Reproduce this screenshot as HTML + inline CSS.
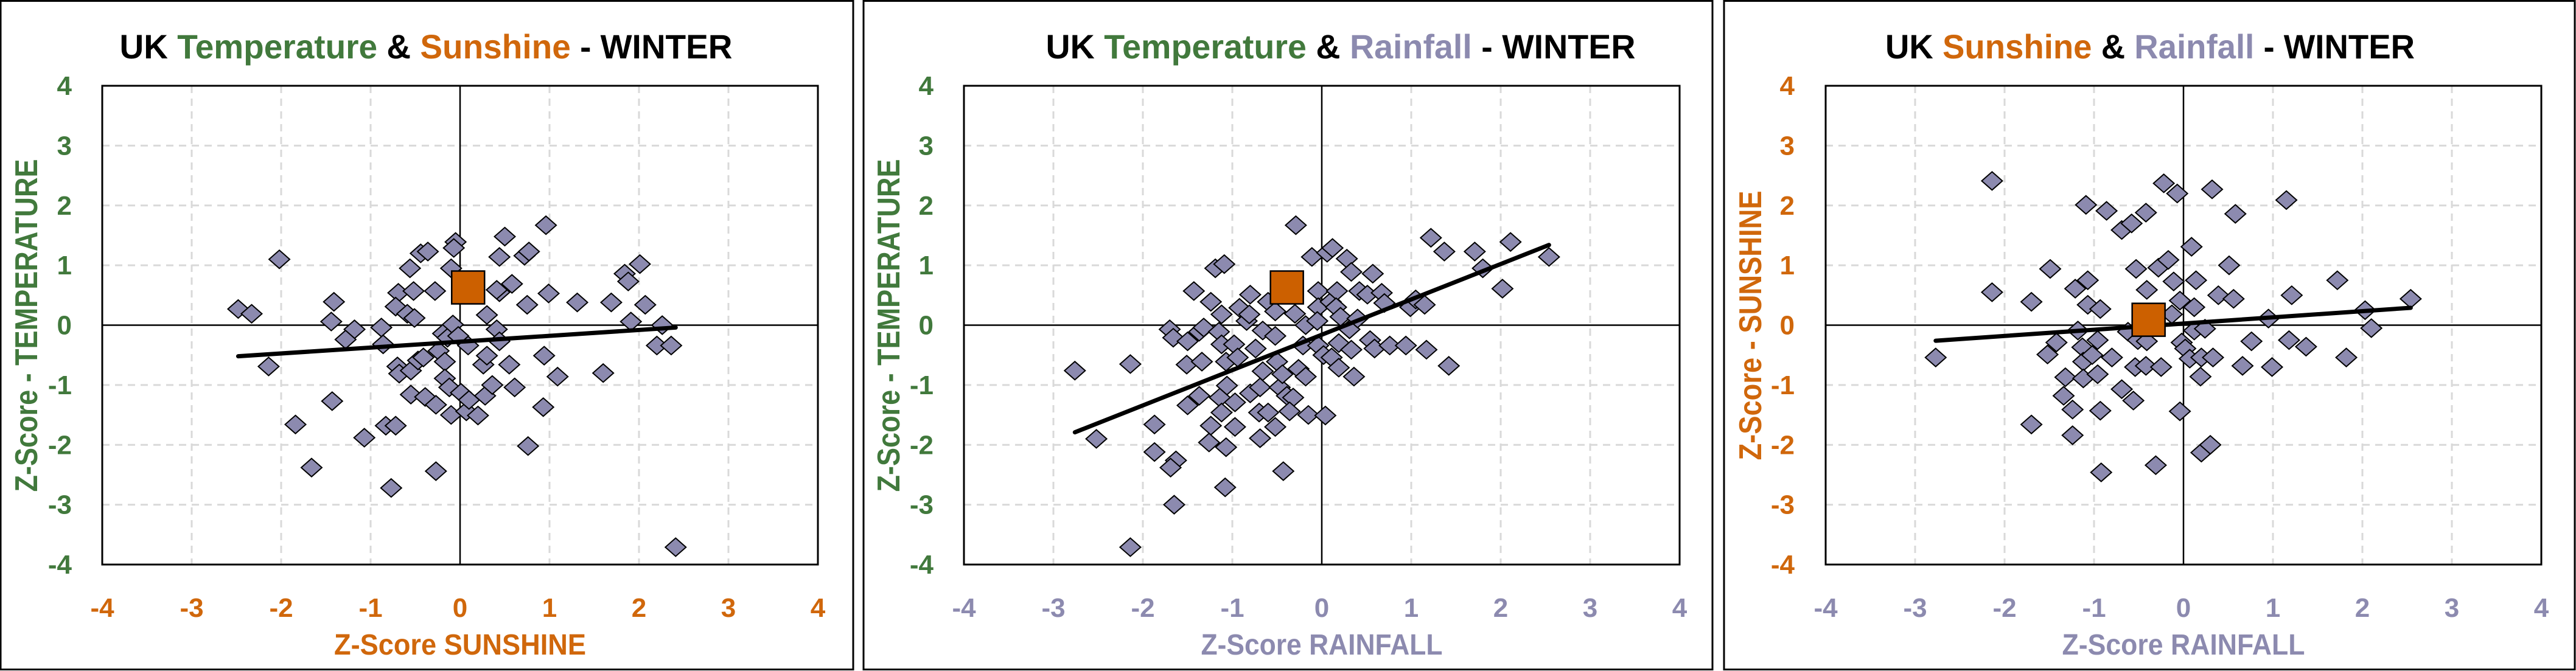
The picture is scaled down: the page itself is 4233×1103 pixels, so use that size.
<!DOCTYPE html>
<html><head><meta charset="utf-8"><style>
html,body{margin:0;padding:0;background:#fff;overflow:hidden;}
svg{display:block;}
text{font-family:"Liberation Sans Narrow","Liberation Sans",sans-serif;font-weight:bold;}
</style></head><body>
<svg id="s" width="4233" height="1103" xmlns="http://www.w3.org/2000/svg"></svg>
<script>
const G="#41793C",O="#D0670B",P="#8C8AAF";
const panels=[
{bx:1,bw:1401,px:168,title:[["UK ","#000"],["Temperature",G],[" & ","#000"],["Sunshine",O],[" - WINTER","#000"]],tcx:700,tw:1007,
 ytickR:118,ycol:G,xcol:O,ytitle:"Z-Score - TEMPERATURE",ytx:43,ytl:547,xtitle:"Z-Score SUNSHINE",xtw:414,
 sq:[0.09,0.63],tr:[[-2.48,-0.52],[2.41,-0.04]],
 pts:[[-2.48,0.27],[-2.33,0.19],[-2.02,1.1],[-2.14,-0.69],[-1.84,-1.66],[-1.66,-2.38],[-1.41,0.39],[-1.44,0.06],[-1.18,-0.07],[-1.28,-0.24],[-1.43,-1.27],[-1.07,-1.88],[-0.88,-0.04],[-0.86,-0.32],[-0.83,-1.68],[-0.72,-1.68],[-0.77,-2.72],[-0.69,0.54],[-0.72,0.31],[-0.59,0.19],[-0.51,0.12],[-0.56,0.95],[-0.52,0.57],[-0.44,1.2],[-0.36,1.23],[-0.28,0.57],[-0.70,-0.69],[-0.68,-0.81],[-0.55,-0.76],[-0.47,-0.59],[-0.41,-0.54],[-0.55,-1.16],[-0.39,-1.2],[-0.27,-1.33],[-0.27,-2.44],[-0.24,-0.43],[-0.17,-0.61],[-0.19,-0.14],[-0.14,-0.21],[-0.08,0.01],[-0.17,-0.89],[-0.12,-1.04],[-0.10,-1.5],[-0.05,1.39],[-0.07,1.29],[-0.10,0.95],[-0.02,-0.18],[0.01,-1.13],[0.07,-1.44],[0.10,-1.25],[0.09,-0.34],[0.20,-1.51],[0.28,-1.18],[0.26,-0.66],[0.30,-0.51],[0.30,0.17],[0.41,-0.07],[0.44,-0.27],[0.36,-1.0],[0.44,1.14],[0.50,1.48],[0.44,0.55],[0.41,0.59],[0.58,0.69],[0.55,-0.66],[0.61,-1.04],[0.75,0.34],[0.72,1.16],[0.77,1.23],[0.76,-2.02],[0.96,1.67],[0.99,0.53],[0.94,-0.51],[0.93,-1.37],[1.09,-0.86],[1.31,0.38],[1.60,-0.8],[1.69,0.38],[1.84,0.86],[1.88,0.73],[2.01,1.02],[1.91,0.06],[2.07,0.34],[2.26,0.0],[2.20,-0.34],[2.36,-0.34],[2.41,-3.71]]},
{bx:1419,bw:1395,px:1584,title:[["UK ","#000"],["Temperature",G],[" & ","#000"],["Rainfall",P],[" - WINTER","#000"]],tcx:2203,tw:969,
 ytickR:1534,ycol:G,xcol:P,ytitle:"Z-Score - TEMPERATURE",ytx:1460,ytl:547,xtitle:"Z-Score RAINFALL",xtw:397,
 sq:[-0.39,0.63],tr:[[-2.76,-1.79],[2.54,1.34]],
 pts:[[-2.76,-0.76],[-2.52,-1.9],[-2.14,-0.65],[-2.14,-3.71],[-1.87,-1.66],[-1.87,-2.12],[-1.70,-0.07],[-1.66,-0.21],[-1.63,-2.26],[-1.69,-2.38],[-1.65,-3.0],[-1.50,-0.27],[-1.51,-0.66],[-1.50,-1.34],[-1.43,0.57],[-1.37,-0.11],[-1.34,-0.61],[-1.32,-0.04],[-1.37,-1.18],[-1.24,0.39],[-1.24,-1.68],[-1.26,-1.96],[-1.19,0.95],[-1.12,0.18],[-1.15,-0.11],[-1.12,-0.32],[-1.09,1.02],[-1.07,-0.61],[-1.14,-1.21],[-1.06,-1.01],[-1.12,-1.46],[-1.07,-2.04],[-1.08,-2.71],[-0.98,-0.32],[-0.97,-1.29],[-0.97,-1.7],[-0.92,0.29],[-0.84,0.07],[-0.81,0.18],[-0.80,0.51],[-0.94,-0.54],[-0.80,-1.14],[-0.74,-0.39],[-0.66,-0.09],[-0.66,-0.77],[-0.69,-1.04],[-0.70,-1.46],[-0.69,-1.89],[-0.60,0.39],[-0.52,0.23],[-0.52,-0.18],[-0.50,-0.61],[-0.60,-1.46],[-0.52,-1.7],[-0.47,-1.04],[-0.44,-0.82],[-0.39,-1.18],[-0.32,-1.21],[-0.36,-1.44],[-0.43,-2.44],[-0.29,1.67],[-0.30,0.19],[-0.26,-0.73],[-0.18,-0.86],[-0.21,-0.34],[-0.18,0.0],[-0.15,-1.5],[-0.11,1.14],[-0.04,0.57],[-0.04,0.3],[-0.05,0.07],[-0.04,-0.34],[0.02,-0.5],[0.04,-1.51],[0.06,1.21],[0.12,1.29],[0.10,0.39],[0.11,-0.54],[0.17,0.57],[0.16,0.3],[0.19,-0.3],[0.19,-0.71],[0.21,0.14],[0.28,1.11],[0.33,0.89],[0.31,-0.07],[0.33,-0.41],[0.36,-0.86],[0.40,0.11],[0.42,0.57],[0.51,0.51],[0.57,0.86],[0.54,-0.25],[0.59,-0.39],[0.67,0.54],[0.70,0.37],[0.76,-0.34],[0.94,-0.34],[0.99,0.3],[1.05,0.43],[1.15,0.34],[1.17,-0.41],[1.22,1.46],[1.37,1.23],[1.42,-0.68],[1.71,1.23],[1.80,0.95],[2.02,0.61],[2.11,1.39],[2.54,1.14]]},
{bx:2833,bw:1398,px:3000,title:[["UK ","#000"],["Sunshine",O],[" & ","#000"],["Rainfall",P],[" - WINTER","#000"]],tcx:3533,tw:870,
 ytickR:2949,ycol:O,xcol:P,ytitle:"Z-Score - SUNSHINE",ytx:2876,ytl:443,xtitle:"Z-Score RAINFALL",xtw:399,
 sq:[-0.39,0.09],tr:[[-2.77,-0.26],[2.54,0.29]],
 pts:[[-2.77,-0.54],[-2.14,2.41],[-2.14,0.55],[-1.70,0.39],[-1.70,-1.66],[-1.52,-0.49],[-1.49,0.94],[-1.42,-0.29],[-1.34,-1.18],[-1.32,-0.87],[-1.24,-1.41],[-1.24,-1.84],[-1.21,0.61],[-1.18,-0.09],[-1.13,-0.37],[-1.12,-0.61],[-1.12,-0.89],[-1.09,2.01],[-1.07,0.75],[-1.07,0.34],[-1.02,-0.5],[-0.96,-0.25],[-0.93,0.27],[-0.96,-0.82],[-0.93,-1.43],[-0.92,-2.46],[-0.86,1.91],[-0.80,-0.54],[-0.69,1.59],[-0.69,-1.07],[-0.58,1.7],[-0.56,-1.26],[-0.53,0.94],[-0.54,-0.7],[-0.62,-0.11],[-0.51,-0.25],[-0.42,1.88],[-0.41,0.59],[-0.42,-0.68],[-0.41,-0.27],[-0.31,-2.34],[-0.28,0.96],[-0.25,-0.7],[-0.22,2.37],[-0.17,1.09],[-0.11,0.73],[-0.13,0.18],[-0.07,2.2],[-0.04,0.41],[-0.02,-0.29],[-0.04,-1.44],[0.02,-0.39],[0.07,-0.56],[0.09,1.31],[0.14,0.75],[0.12,0.3],[0.12,-0.09],[0.20,-0.54],[0.19,-0.86],[0.20,-2.13],[0.24,-0.06],[0.30,-2.0],[0.32,2.27],[0.33,-0.54],[0.39,0.5],[0.51,1.0],[0.56,0.44],[0.58,1.86],[0.66,-0.68],[0.76,-0.27],[0.95,0.11],[0.99,-0.7],[1.15,2.09],[1.18,-0.25],[1.21,0.5],[1.37,-0.36],[1.72,0.75],[1.82,-0.54],[2.03,0.25],[2.10,-0.05],[2.54,0.44]]}
];
const PT=141,PB=928,PW=1176,PH=PB-PT;
let h="";
for(const p of panels){
  const X=v=>p.px+(v+4)/8*PW, Y=v=>PB-(v+4)/8*PH;
  h+=`<rect x="${p.bx}" y="1.5" width="${p.bw}" height="1099" fill="#fff" stroke="#000" stroke-width="3"/>`;
  for(let i=-3;i<=3;i++){ if(i==0)continue;
    h+=`<line x1="${X(i)}" y1="${PT}" x2="${X(i)}" y2="${PB}" stroke="#D9D9D9" stroke-width="3" stroke-dasharray="12,9"/>`;
    h+=`<line x1="${p.px}" y1="${Y(i)}" x2="${p.px+PW}" y2="${Y(i)}" stroke="#D9D9D9" stroke-width="3" stroke-dasharray="12,9"/>`;}
  h+=`<line x1="${X(0)}" y1="${PT}" x2="${X(0)}" y2="${PB}" stroke="#000" stroke-width="2.5"/>`;
  h+=`<line x1="${p.px}" y1="${Y(0)}" x2="${p.px+PW}" y2="${Y(0)}" stroke="#000" stroke-width="2.5"/>`;
  h+=`<rect x="${p.px}" y="${PT}" width="${PW}" height="${PH}" fill="none" stroke="#000" stroke-width="3"/>`;
  for(const [a,b] of p.pts){const cx=X(a),cy=Y(b);
    h+=`<polygon points="${cx},${cy-15} ${cx+17},${cy} ${cx},${cy+15} ${cx-17},${cy}" fill="${P}" stroke="#000" stroke-width="2"/>`;}
  h+=`<line x1="${X(p.tr[0][0])}" y1="${Y(p.tr[0][1])}" x2="${X(p.tr[1][0])}" y2="${Y(p.tr[1][1])}" stroke="#000" stroke-width="7" stroke-linecap="round"/>`;
  h+=`<rect x="${X(p.sq[0])-27}" y="${Y(p.sq[1])-27}" width="54" height="54" fill="#CC6000" stroke="#000" stroke-width="2.5"/>`;
  for(let i=-4;i<=4;i++){
    h+=`<text x="${p.ytickR}" y="${Y(i)+15}" font-size="44" text-anchor="end" fill="${p.ycol}">${i}</text>`;
    h+=`<text x="${X(i)}" y="1014" font-size="44" text-anchor="middle" fill="${p.xcol}">${i}</text>`;}
  let t=`<text x="${p.tcx}" y="96" font-size="56" text-anchor="middle" textLength="${p.tw}" lengthAdjust="spacingAndGlyphs">`;
  for(const [s,c] of p.title) t+=`<tspan fill="${c}">${s.replace(/&/g,'&amp;').replace(/ /g,'\u00a0')}</tspan>`;
  h+=t+`</text>`;
  h+=`<text x="${X(0)}" y="1076" font-size="48" text-anchor="middle" fill="${p.xcol}" textLength="${p.xtw}" lengthAdjust="spacingAndGlyphs">${p.xtitle}</text>`;
  h+=`<text transform="translate(${p.ytx+18},535) rotate(-90)" x="0" y="0" font-size="52" text-anchor="middle" fill="${p.ycol}" textLength="${p.ytl}" lengthAdjust="spacingAndGlyphs">${p.ytitle}</text>`;
}
document.getElementById("s").innerHTML=h;
</script>
</body></html>
